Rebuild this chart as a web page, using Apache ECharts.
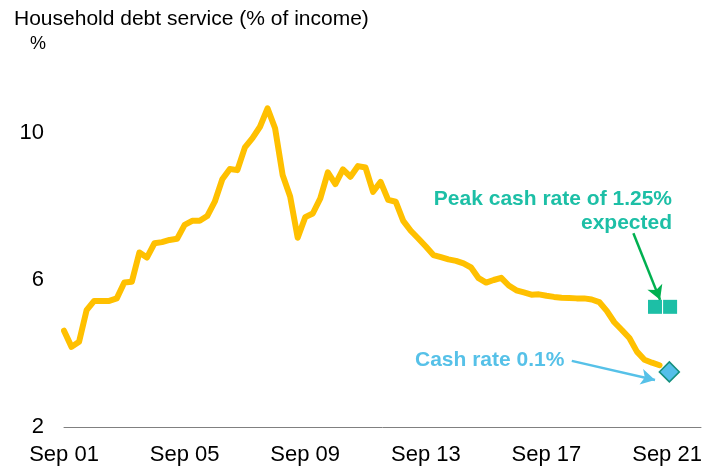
<!DOCTYPE html>
<html>
<head>
<meta charset="utf-8">
<script src="https://cdn.jsdelivr.net/npm/echarts@6/dist/echarts.min.js"></script>
<style>
html,body{margin:0;padding:0;background:#fff;}
#chart{width:707px;height:468px;}
</style>
</head>
<body>
<div id="chart"></div>
<script>
// Quarterly index: 0 = Sep 2001, each step = one quarter
var quarterIndex = [];
for (var q = 0; q <= 79; q++) quarterIndex.push(q);

var debtService = [
  4.62, 4.18, 4.32, 5.18, 5.43, 5.43, 5.43, 5.50, 5.93, 5.95,
  6.75, 6.61, 7.00, 7.03, 7.09, 7.12, 7.50, 7.61, 7.61, 7.74,
  8.13, 8.74, 9.02, 8.99, 9.61, 9.86, 10.17, 10.67, 10.13, 8.86,
  8.27, 7.15, 7.71, 7.81, 8.22, 8.93, 8.61, 9.01, 8.81, 9.10,
  9.06, 8.40, 8.67, 8.18, 8.13, 7.61, 7.34, 7.13, 6.91, 6.68,
  6.62, 6.56, 6.52, 6.45, 6.34, 6.05, 5.93, 6.00, 6.06, 5.85,
  5.72, 5.66, 5.60, 5.61, 5.57, 5.54, 5.52, 5.51, 5.50, 5.50,
  5.47, 5.40, 5.16, 4.85, 4.64, 4.42, 4.05, 3.83, 3.75, 3.68
];

var peakCashRateX = [78.4, 80.4];
var peakCashRateY = [5.27, 5.27];
var cashRateX = [80.3];
var cashRateY = [3.5];

var xTickLabels = ['Sep 01', 'Sep 05', 'Sep 09', 'Sep 13', 'Sep 17', 'Sep 21'];
var yTickLabels = [2, 6, 10];

var FONT = 'Arial, "Liberation Sans", sans-serif';

var lineData = quarterIndex.map(function (x, i) { return [x, debtService[i]]; });
var squareData = peakCashRateX.map(function (x, i) { return [x, peakCashRateY[i]]; });
var diamondData = cashRateX.map(function (x, i) { return [x, cashRateY[i]]; });

var chart = echarts.init(document.getElementById('chart'), null, {renderer: 'canvas'});
chart.setOption({
  animation: false,
  backgroundColor: '#fff',
  title: {
    text: 'Household debt service (% of income)',
    left: 14, top: 9, padding: 0,
    textStyle: {fontFamily: FONT, fontSize: 21, fontWeight: 'normal', color: '#000'}
  },
  grid: {left: 64, right: 6, top: 59.5, bottom: 41},
  xAxis: {
    type: 'value', min: 0, max: 84.5, interval: 16,
    axisLine: {show: true, lineStyle: {color: '#808080', width: 1}},
    axisTick: {show: false},
    splitLine: {show: false},
    axisLabel: {
      showMaxLabel: false,
      fontFamily: FONT, fontSize: 22, color: '#000', margin: 17,
      formatter: function (v) {
        if (Math.abs(v % 16) > 1e-6) return '';
        return xTickLabels[v / 16] || '';
      }
    }
  },
  yAxis: {
    type: 'value', min: 2, max: 12, interval: 2,
    axisLine: {show: false},
    axisTick: {show: false},
    splitLine: {show: false},
    axisLabel: {
      showMaxLabel: false,
      fontFamily: FONT, fontSize: 22, color: '#000', margin: 20,
      formatter: function (v) {
        return yTickLabels.indexOf(v) >= 0 ? String(v) : '';
      }
    }
  },
  graphic: [
    {type: 'text', left: 30, top: 35, style: {text: '%', font: '18px ' + FONT, fill: '#000'}},
    {type: 'text', right: 35, top: 189, style: {text: 'Peak cash rate of 1.25%', font: 'bold 21px ' + FONT, fill: '#1DBFA6', textAlign: 'right'}},
    {type: 'text', right: 35, top: 213, style: {text: 'expected', font: 'bold 21px ' + FONT, fill: '#1DBFA6', textAlign: 'right'}},
    {type: 'text', left: 415, top: 350, style: {text: 'Cash rate 0.1%', font: 'bold 21px ' + FONT, fill: '#56C1E8'}}
  ],
  series: [
    {
      type: 'line', data: lineData, showSymbol: false, symbol: 'none',
      lineStyle: {color: '#FFC000', width: 6, join: 'round', cap: 'round'},
      z: 2,
      markLine: {
        silent: true, symbol: ['none', 'arrow'], symbolSize: [12, 14],
        label: {show: false},
        data: [
          [{coord: [75.53, 7.27], lineStyle: {color: '#00B050', width: 2.5, type: 'solid'}}, {coord: [79.07, 5.46]}],
          [{coord: [67.36, 3.80], lineStyle: {color: '#56C1E8', width: 2.5, type: 'solid'}}, {coord: [78.4, 3.28]}]
        ]
      }
    },
    {
      type: 'scatter', data: squareData, symbol: 'rect', symbolSize: 14,
      itemStyle: {color: '#1DBFA6', opacity: 1}, z: 3
    },
    {
      type: 'scatter', data: diamondData, symbol: 'diamond', symbolSize: [20, 20],
      itemStyle: {color: '#55BFE9', borderColor: '#15907E', borderWidth: 1.5, opacity: 1}, z: 4
    }
  ]
});
</script>
</body>
</html>
